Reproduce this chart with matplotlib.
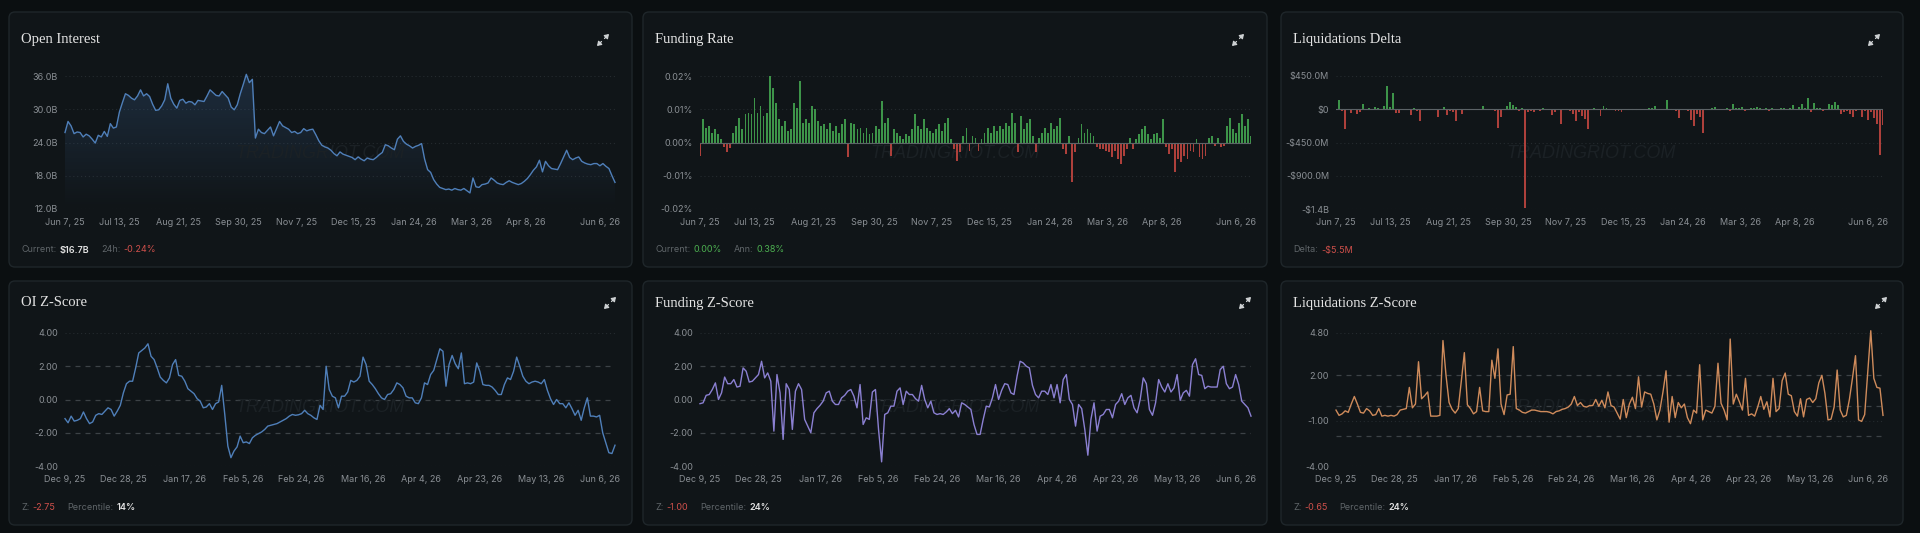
"""Derivatives dashboard: six dark panels (OI, funding, liquidations and their z-scores)."""

import matplotlib
import matplotlib.pyplot as plt
import numpy as np
import pandas as pd
from matplotlib.colors import LinearSegmentedColormap
from matplotlib.patches import FancyArrowPatch, FancyBboxPatch
from matplotlib.transforms import IdentityTransform, ScaledTranslation

matplotlib.use("Agg")

# ---------------------------------------------------------------- data
top_start, top_end = "2025-06-07", "2026-06-06"   # sampled every 2 days
bot_start, bot_end = "2025-12-09", "2026-06-06"   # daily

top_tick_dates = ["2025-06-07", "2025-07-13", "2025-08-21", "2025-09-30", "2025-11-07",
                  "2025-12-15", "2026-01-24", "2026-03-03", "2026-04-08", "2026-06-06"]
bot_tick_dates = ["2025-12-09", "2025-12-28", "2026-01-17", "2026-02-05", "2026-02-24",
                  "2026-03-16", "2026-04-04", "2026-04-23", "2026-05-13", "2026-06-06"]

# open interest, $B
oi_bn = [25.8, 27.8, 27.0, 25.6, 25.9, 25.8, 25.0, 25.5, 25.2, 24.6,
         23.9, 25.3, 25.0, 26.0, 25.1, 27.4, 26.6, 26.8, 29.5, 31.2,
         32.8, 32.5, 32.0, 31.7, 32.4, 33.5, 32.4, 32.8, 32.3, 30.9,
         29.8, 29.9, 30.6, 31.7, 34.6, 32.0, 30.9, 30.2, 31.6, 31.8,
         31.1, 31.4, 31.3, 30.8, 31.6, 31.5, 31.4, 32.4, 33.5, 33.0,
         32.5, 32.4, 33.2, 32.6, 32.0, 30.4, 29.9, 30.8, 32.8, 34.5,
         36.3, 34.8, 35.4, 24.8, 26.4, 25.8, 25.6, 26.2, 26.8, 25.2,
         26.5, 27.8, 27.0, 26.7, 26.4, 25.8, 26.0, 25.6, 25.8, 26.5,
         26.1, 26.3, 26.4, 25.4, 24.3, 23.5, 23.2, 23.0, 22.6, 22.0,
         21.6, 22.3, 21.9, 21.7, 21.5, 21.3, 20.9, 21.4, 21.0, 20.7,
         21.2, 21.0, 20.9, 21.3, 21.8, 22.2, 23.6, 23.4, 23.0, 22.7,
         24.6, 25.2, 24.2, 23.7, 23.4, 23.0, 23.3, 23.5, 23.8, 21.0,
         19.1, 18.6, 17.3, 16.5, 15.9, 15.7, 15.5, 15.6, 15.4, 15.7,
         15.5, 15.4, 15.7, 15.3, 14.9, 17.6, 16.0, 15.9, 16.4, 16.5,
         16.7, 17.6, 17.2, 16.7, 16.5, 16.4, 16.8, 17.1, 16.8, 16.6,
         16.4, 16.6, 17.0, 17.5, 18.2, 19.0, 19.6, 20.8, 18.7, 20.6,
         19.8, 19.3, 19.2, 19.1, 20.2, 21.4, 22.6, 21.3, 20.9, 21.2,
         21.4, 20.6, 20.3, 20.1, 20.0, 20.2, 20.2, 19.8, 20.2, 19.7,
         19.3, 18.0, 16.8]

# funding rate, in thousandths of a percent
funding_milli_pct = [-4, 7, 4.5, 5, 3, 4, 2.5, 1, -1.5, -2.8,
                     -1.8, 3, 5, 7.5, 4, 8.5, 9, 8.5, 13.5, 9,
                     11, 8, 9, 20, 16.5, 12, 7, 5, 6.5, 3.5,
                     4, 12, 10.5, 18.5, 6, 7, 6, 11, 10, 6.5,
                     5, 5.5, 4, 6, 3.5, 5, 3, 5.5, 7, -4.5,
                     6, 5.5, 4, 4.5, 3, 4.5, 2.5, 3, 5, 4,
                     12.5, 6, 7.5, -4, 4, 3, 2, 1, 2.5, 2,
                     4, 8.5, 5, 4, 7, 4.5, 3.5, 3, 4, 5.5,
                     3.5, 6, 7.5, 1, -2, -5.5, -3, 2, 4.5, -2.5,
                     2, 1.5, -2.5, 1, 3, 4.5, 3, 5, 3.5, 5,
                     4, 6, 5, 9, 6, -3, 8, 4, 6, 7,
                     2, -3, 1.5, 3, 4.5, 3, 6, 4, 5, 7.5,
                     -2, -3.5, 2, -12, -3, 1.5, 5.5, 3, 4, 3,
                     2, -1.5, -2, -2, -2.5, -3, -4.5, -2.5, -5, -6.5,
                     -4, -2, 1.5, -2, 1, 2.5, 4, 5, 2.5, 1,
                     2.5, 3, 1.5, 7, -1.5, -3.5, -2, -9, -5, -6,
                     -4, -5, -2.5, -3, 1, -4.5, -5, -4, 1.5, 2,
                     -1, 1.5, -1.5, -1, 5, 7.5, 4, 3, 6, 8.5,
                     5, 7, 2]

# liquidations delta, $M
liq_delta_m = [5, 120, -25, -270, -10, -45, 10, -60, -35, 65,
               10, 15, 8, 25, 12, 5, 40, 315, 30, 215,
               -45, -50, 10, 5, -15, -80, 12, -20, -160, 8,
               10, 5, -10, 8, -100, -10, 25, -80, -20, -40,
               -160, 5, -70, 10, 5, -10, 8, 10, 5, 40,
               5, -10, 8, -20, -260, -100, 10, 40, 100, 60,
               30, -20, 15, -1340, -40, -25, -35, 10, -30, 15,
               5, -15, -80, -40, 10, -200, 5, 10, -20, -60,
               -160, -40, -90, -130, -270, 10, 15, 5, -90, 40,
               15, -15, 10, -30, -20, -40, 10, 5, 10, 5,
               8, 5, 10, 5, 12, 20, 50, 10, 5, 8,
               130, 10, 5, -30, -120, 5, 10, -20, -140, -220,
               -60, -100, -320, 10, 5, 15, 25, 8, 10, 5,
               12, -30, 75, 20, 15, 25, -20, 10, 20, 15,
               25, 20, -15, 15, -20, 15, 10, -15, 20, 15,
               10, 20, 60, 10, 25, 70, 15, 150, -40, 80,
               20, 15, -30, 10, 70, 55, 100, 60, -60, -40,
               -30, -70, -100, -20, 10, -110, -30, -150, -40, -120,
               -200, -620, -210]

oi_z = [-1.15, -1.4, -1.0, -1.3, -1.25, -1.15, -0.75, -1.15, -1.45, -1.35,
        -0.95, -0.85, -0.9, -0.7, -0.5, -0.6, -1.0, -0.7, -0.35, 0.4,
        0.95, 1.1, 1.1, 1.9, 2.8, 2.95, 3.1, 3.35, 2.6, 2.4,
        1.9, 1.35, 1.15, 1.0, 1.3, 2.1, 2.4, 1.45, 1.4, 1.1,
        0.65, 0.5, 0.35, 0.05, -0.1, -0.5, -0.45, -0.25, -0.6, -0.25,
        -0.15, 0.85, -0.9, -2.8, -3.5, -3.1, -2.85, -2.2, -2.6, -2.55,
        -2.65, -2.3, -2.15, -2.05, -1.95, -1.8, -1.6, -1.55, -1.5, -1.45,
        -1.35, -1.25, -1.15, -1.0, -0.9, -0.95, -0.92, -0.85, -0.65, -0.85,
        -0.95, -1.1, -1.2, -0.35, -0.6, 2.0, 0.6, 0.2, 0.1, -0.5,
        0.2, 0.2, 0.45, 1.15, 1.05, 1.15, 1.4, 2.55, 2.1, 1.1,
        0.9, 0.65, 0.35, 0.1, 0.0, 0.3, 0.35, 0.6, 1.0, 0.9,
        0.7, 0.2, 0.1, 0.1, -0.2, -0.25, 0.1, 1.0, 0.9, 1.5,
        1.75, 2.4, 3.05, 2.9, 0.8, 2.1, 2.65, 2.15, 1.85, 2.8,
        0.95, 1.0, 0.95, 1.05, 2.2, 1.7, 0.9, 0.85, 0.85, 0.75,
        0.55, 0.3, 0.3, 0.9, 1.3, 1.2, 1.7, 2.55, 2.0, 1.4,
        1.1, 0.95, 1.05, 1.1, 1.05, 0.95, 1.2, 0.55, 0.05, -0.3,
        0.0, -0.25, -0.25, -0.5, -0.2, -0.55, -0.95, -0.65, -1.25, -0.5,
        0.1, -1.0, -1.0, -1.05, -0.95, -2.0, -2.6, -3.2, -3.25, -2.75]

funding_z = [-0.25, -0.2, 0.25, 0.3, 0.6, 1.0, 0.0, 0.4, 1.35, 0.95,
             0.95, 1.2, 0.75, 0.8, 1.9, 1.7, 1.05, 1.1, 1.3, 1.5,
             2.3, 1.3, 1.6, 1.1, -1.9, 1.5, 0.4, -2.4, 0.95, 0.6,
             -1.8, 0.5, 0.95, 0.6, -1.2, -1.6, -2.0, -0.8, -0.55, -0.35,
             -0.1, 0.4, 0.5, -0.1, -0.3, -0.3, 0.1, 0.25, 0.5, 0.6,
             0.2, -0.5, 0.9, -1.5, -1.1, -1.2, 0.45, 0.6, -1.8, -3.75,
             -0.9, -0.8, -0.4, -0.4, 0.5, 0.7, -0.3, 0.5, 0.3, 0.3,
             0.05, -0.1, 0.85, 0.0, -0.5, -0.1, -0.8, -0.9, -0.85, -0.9,
             -0.75, -0.55, -0.85, -0.65, -1.05, -0.2, -0.3, -0.45, -0.6, -1.5,
             -2.1, -2.1, -1.2, -0.4, -0.45, 0.1, 0.9, 0.0, 0.55, 0.95,
             0.9, 0.4, 0.3, 1.4, 2.3, 2.2, 2.0, 1.9, 0.85, 0.3,
             0.1, 0.5, 0.5, 0.3, 0.9, 0.1, 0.9, -0.2, 1.2, 1.5,
             0.0, -0.3, -1.6, -0.3, -0.55, -1.8, -3.35, -1.2, -0.2, -1.9,
             -1.0, -0.9, -0.6, -0.6, -1.1, -0.3, -0.1, 0.35, -0.3, 0.1,
             0.25, -0.5, -0.8, 0.0, 1.3, 0.95, -0.6, -0.95, -0.2, 1.2,
             0.75, 0.45, 0.95, 0.45, 0.7, 1.5, -0.05, 0.4, 0.55, 0.2,
             2.1, 2.45, 1.5, 1.45, 0.65, 0.8, 0.75, 0.75, 0.75, 1.8,
             2.0, 0.95, 0.65, 0.75, 1.5, 0.9, -0.1, -0.3, -0.5, -1.0]

liq_z = [-0.3, -0.65, -0.55, -0.35, -0.45, 0.1, 0.6, 0.1, -0.45, -0.5,
         -0.2, -0.35, -0.65, -0.6, -0.2, -0.7, -0.65, -0.7, -0.65, -0.7,
         -0.6, -0.3, -0.25, -0.2, 1.2, -0.15, 0.1, 2.9, 0.45, 0.65,
         0.9, -0.7, -0.7, -0.7, -0.65, 4.3, 2.0, 0.2, -0.25, -0.5,
         -0.2, 1.6, 3.5, 0.05, -0.2, -0.55, -0.4, 1.2, -0.35, -0.4,
         -0.4, 3.0, 1.8, 3.75, 0.1, -0.6, 0.7, 0.75, 3.9, -0.2,
         -0.3, -0.45, -0.5, -0.4, -0.3, -0.3, -0.35, -0.4, -0.4, -0.4,
         -0.45, -0.55, -0.4, -0.35, -0.25, -0.2, -0.1, 0.1, 0.6, 0.0,
         0.2, -0.05, -0.1, 0.0, 0.0, 0.4, -0.05, 0.35, -0.15, 0.9,
         0.0, -0.1, -0.5, -0.9, 0.4, -0.8, 0.1, 0.55, -0.2, 1.9,
         -0.1, 0.9, 0.8, 0.75, 0.1, -0.95, -0.3, 0.9, 2.3, -1.1,
         0.6, -0.8, 0.2, -0.15, 0.1, -0.8, -1.2, -0.3, -0.5, 2.7,
         -0.95, -0.3, -0.4, -0.5, -0.05, 2.8, 0.15, -0.3, -0.95, 4.4,
         0.1, 0.75, 0.25, -0.3, 1.8, -0.65, -0.55, -0.7, -0.1, 0.6,
         -0.25, 0.25, -0.75, 1.8, -0.4, -0.2, 1.65, 2.15, 0.75, 0.65,
         -0.4, -0.7, 0.45, -0.75, 0.4, 0.5, 0.2, 0.45, 1.5, 2.0,
         0.8, -0.95, -0.9, -0.1, 2.35, -0.3, -0.75, -0.65, 0.4, 1.8,
         3.3, -0.95, -1.05, -0.6, 2.2, 4.95, 1.8, 1.2, 1.15, -0.65]

oi_ticks = [12, 18, 24, 30, 36]
oi_tick_labels = ["12.0B", "18.0B", "24.0B", "30.0B", "36.0B"]
fr_ticks = [-0.02, -0.01, 0.0, 0.01, 0.02]
fr_tick_labels = ["-0.02%", "-0.01%", "0.00%", "0.01%", "0.02%"]
liq_ticks = [-1350, -900, -450, 0, 450]
liq_tick_labels = ["-$1.4B", "-$900.0M", "-$450.0M", "$0", "$450.0M"]
z_ticks = [-4, -2, 0, 2, 4]
z_tick_labels = ["-4.00", "-2.00", "0.00", "2.00", "4.00"]
lz_ticks = [-4, -1, 2, 4.8]
lz_tick_labels = ["-4.00", "-1.00", "2.00", "4.80"]

# ---------------------------------------------------------------- style
W, H = 1920, 533
PAGE_BG = "#0b0f11"
PANEL_BG = "#101518"
PANEL_EDGE = "#1f262a"
GRID = "#252b2f"
DASH = "#3c4246"
TICK = "#8a8f94"
TITLE = "#e4e4e4"
LABEL = "#5f6569"
WHITE = "#e2e2e2"
RED = "#d0504b"
GREEN = "#4caf50"
BAR_GREEN = "#3d9449"
BAR_RED = "#ad403b"
OI_BLUE = "#4f7fb9"
FZ_PURPLE = "#8b80d2"
LZ_ORANGE = "#cf8b5b"
SANS = ["Inter", "DejaVu Sans"]
SERIF = ["Liberation Serif", "DejaVu Serif"]

plt.rcParams["font.family"] = SANS

fig = plt.figure(figsize=(W / 100, H / 100), dpi=100, facecolor=PAGE_BG)
renderer = fig.canvas.get_renderer()

COLS = [(9, 632), (643, 1267), (1281, 1903)]
PLOT_X = [(65, 615), (700, 1251), (1336, 1883)]
ROWS = {
    "top": dict(panel=(12, 267), plot=(76, 209), title=40, footer=250, icon_dx=29),
    "bot": dict(panel=(281, 525), plot=(333, 466), title=303, footer=507, icon_dx=22),
}


def fmt_date(d):
    return f"{d:%b} {d.day}, {d:%y}"


def add_panel(col, row, title):
    x0, x1 = COLS[col]
    r = ROWS[row]
    y0, y1 = r["panel"]
    fig.add_artist(FancyBboxPatch((x0, H - y1), x1 - x0, y1 - y0,
                                  boxstyle="round,pad=0,rounding_size=6",
                                  transform=IdentityTransform(), fc=PANEL_BG,
                                  ec=PANEL_EDGE, lw=1.0, zorder=-5))
    fig.text((x0 + 12) / W, 1 - r["title"] / H, title, color=TITLE, fontsize=10.5,
             family=SERIF, va="center", ha="left")
    # expand icon: two diagonal arrows pointing outwards
    cx, cy = x1 - r["icon_dx"], H - r["title"]
    for s in (1, -1):
        fig.add_artist(FancyArrowPatch((cx + s * 1.5, cy + s * 1.5), (cx + s * 6.0, cy + s * 6.0),
                                       transform=IdentityTransform(),
                                       arrowstyle="-|>,head_length=2.4,head_width=1.6",
                                       color="#cfd2d4", lw=0.9, mutation_scale=1,
                                       shrinkA=0, shrinkB=0))


def add_axes(col, row):
    px0, px1 = PLOT_X[col]
    py0, py1 = ROWS[row]["plot"]
    ax = fig.add_axes([px0 / W, 1 - py1 / H, (px1 - px0) / W, (py1 - py0) / H])
    ax.set_facecolor("none")
    for sp in ax.spines.values():
        sp.set_visible(False)
    ax.tick_params(length=0, colors=TICK, labelsize=6.5)
    ax.tick_params(axis="y", pad=5)
    ax.tick_params(axis="x", pad=6.5)
    ax.text(px0 + 255, H - (153 if row == "top" else 408), "TRADINGRIOT.COM",
            transform=IdentityTransform(), color="#1b2125", fontsize=13,
            family=["Liberation Sans", "DejaVu Sans"], style="italic",
            ha="center", va="center", zorder=1.5)
    return ax


def set_x(ax, start, end, tick_dates):
    ax.set_xlim(pd.Timestamp(start), pd.Timestamp(end))
    ticks = [pd.Timestamp(d) for d in tick_dates]
    ax.set_xticks(ticks)
    ax.set_xticklabels([fmt_date(d) for d in ticks])
    last = ax.xaxis.get_major_ticks()[-1].label1
    last.set_horizontalalignment("right")
    last.set_transform(last.get_transform() + ScaledTranslation(5 / 100, 0, fig.dpi_scale_trans))


def set_y(ax, lo, hi, ticks, labels, dashed=()):
    ax.set_ylim(lo, hi)
    ax.set_yticks(ticks)
    ax.set_yticklabels(labels)
    for t in ticks:
        if t not in dashed:
            ax.axhline(t, color=GRID, lw=0.8, ls=(0, (1, 2.5)), zorder=0.5)
    for t in dashed:
        ax.axhline(t, color=DASH, lw=0.9, ls=(0, (4, 4)), zorder=0.6)


def footer(col, row, items):
    x = COLS[col][0] + 12
    y = 1 - ROWS[row]["footer"] / H
    for label, value, vcolor, bold in items:
        t = fig.text(x / W, y, label, color=LABEL, fontsize=6.5, va="center", ha="left")
        x += t.get_window_extent(renderer).width + 3
        t = fig.text(x / W, y, value, color=vcolor, fontsize=6.5, va="center", ha="left",
                     fontweight="semibold" if bold else "normal")
        x += t.get_window_extent(renderer).width + 12


top_dates = pd.date_range(top_start, top_end, freq="2D")
bot_dates = pd.date_range(bot_start, bot_end, freq="D")

# ---------------------------------------------------------------- Open Interest
add_panel(0, "top", "Open Interest")
ax = add_axes(0, "top")
fill = ax.fill_between(top_dates, oi_bn, 12, color="none", lw=0)
xn = matplotlib.dates.date2num(top_dates)
grad = LinearSegmentedColormap.from_list("oi", [(0.29, 0.48, 0.72, 0.0), (0.29, 0.48, 0.72, 0.24)])
img = ax.imshow(np.linspace(1, 0, 256).reshape(-1, 1), cmap=grad, aspect="auto",
                extent=[xn[0], xn[-1], 12, 36.5], origin="upper", zorder=1)
img.set_clip_path(fill.get_paths()[0], transform=ax.transData)
ax.plot(top_dates, oi_bn, color=OI_BLUE, lw=1.0, zorder=3, clip_on=False)
set_y(ax, 12, 36, oi_ticks, oi_tick_labels)
set_x(ax, top_start, top_end, top_tick_dates)
footer(0, "top", [("Current:", "$16.7B", WHITE, True), ("24h:", "-0.24%", RED, False)])

# ---------------------------------------------------------------- Funding Rate
add_panel(1, "top", "Funding Rate")
ax = add_axes(1, "top")
fr = np.array(funding_milli_pct) / 1000.0
ax.bar(top_dates, fr, width=1.2, color=[BAR_GREEN if v >= 0 else BAR_RED for v in fr],
       lw=0, zorder=2)
ax.axhline(0, color="#5c6367", lw=0.8, zorder=2.5)
set_y(ax, -0.02, 0.02, fr_ticks, fr_tick_labels)
set_x(ax, top_start, top_end, top_tick_dates)
footer(1, "top", [("Current:", "0.00%", GREEN, False), ("Ann:", "0.38%", GREEN, False)])

# ---------------------------------------------------------------- Liquidations Delta
add_panel(2, "top", "Liquidations Delta")
ax = add_axes(2, "top")
ax.bar(top_dates, liq_delta_m, width=1.3,
       color=[BAR_GREEN if v >= 0 else BAR_RED for v in liq_delta_m], lw=0, zorder=2)
ax.axhline(0, color="#5c6367", lw=0.8, zorder=2.5)
set_y(ax, -1350, 450, liq_ticks, liq_tick_labels)
set_x(ax, top_start, top_end, top_tick_dates)
footer(2, "top", [("Delta:", "-$5.5M", RED, False)])

# ---------------------------------------------------------------- z-scores
zpanels = [
    ("OI Z-Score", oi_z, OI_BLUE, z_ticks, z_tick_labels, (-4, 4), "-2.75", "14%"),
    ("Funding Z-Score", funding_z, FZ_PURPLE, z_ticks, z_tick_labels, (-4, 4), "-1.00", "24%"),
    ("Liquidations Z-Score", liq_z, LZ_ORANGE, lz_ticks, lz_tick_labels, (-4, 4.8), "-0.65", "24%"),
]
for col, (title, vals, color, ticks, labels, lim, zval, pct) in enumerate(zpanels):
    add_panel(col, "bot", title)
    ax = add_axes(col, "bot")
    ax.plot(bot_dates, vals, color=color, lw=1.0, zorder=3, clip_on=False)
    set_y(ax, lim[0], lim[1], ticks, labels, dashed=(-2, 0, 2))
    set_x(ax, bot_start, bot_end, bot_tick_dates)
    footer(col, "bot", [("Z:", zval, RED, False), ("Percentile:", pct, WHITE, True)])

fig.savefig("out.png", dpi=100, facecolor=PAGE_BG)
